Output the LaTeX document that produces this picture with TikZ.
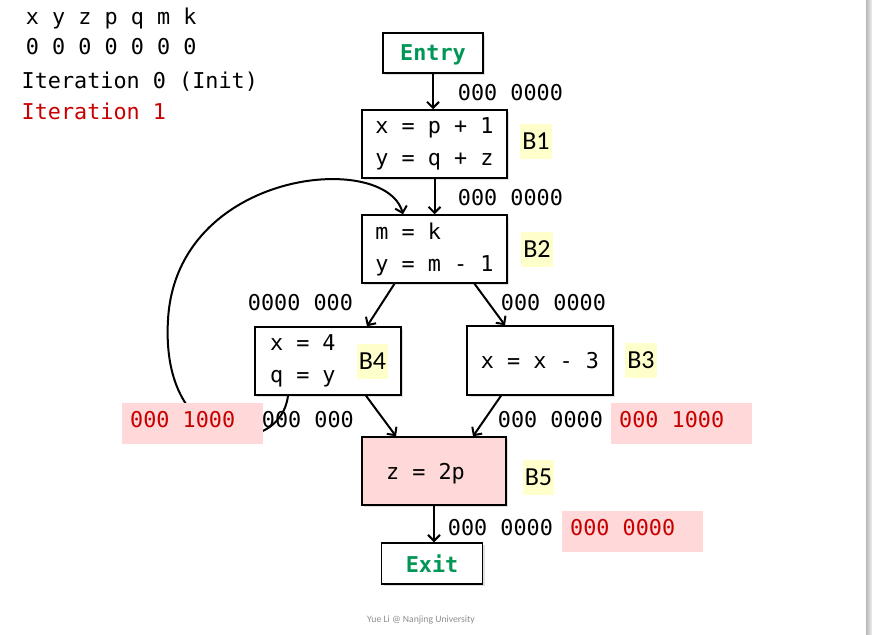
\documentclass[tikz,border=0pt]{standalone}
\usepackage{fontspec}
\setmonofont{DejaVu Sans Mono}
\newfontfamily\lblfont{Carlito}
\usepackage{xcolor}
\usetikzlibrary{arrows.meta,positioning,shadows}

\definecolor{entrygreen}{RGB}{0,150,85}
\definecolor{hotred}{RGB}{200,0,0}
\definecolor{pinkfill}{RGB}{255,217,217}
\definecolor{tagyellow}{RGB}{255,255,204}
\newcommand{\codefont}{\fontsize{21.8}{32}\selectfont\ttfamily}

\tikzset{
  blk/.style={draw=black, line width=1.5pt, fill=white, align=left, font=\codefont,
    execute at begin node={\spaceskip=0pt\relax},
    drop shadow={shadow xshift=2pt, shadow yshift=-2pt, opacity=0.2, fill=black!60}},
  term/.style={blk, minimum width=100pt, minimum height=40pt, text depth=0pt,
    text=entrygreen, font=\codefont\bfseries},
  tag/.style={fill=tagyellow, font=\lblfont\fontsize{26}{28}\selectfont,
    minimum height=35pt, inner xsep=2pt, inner ysep=0pt},
  bits/.style={font=\codefont, inner sep=0pt, anchor=base west},
  redbits/.style={fill=pinkfill, text=hotred, font=\codefont, anchor=west,
    execute at begin node={\spaceskip=0pt\relax},
    minimum height=41pt, text width=125pt, inner xsep=8pt, text depth=8pt, align=left},
  arr/.style={line width=2pt, -{Straight Barb[length=6pt,width=12pt]}},
}

\begin{document}
\begin{tikzpicture}[x=1pt,y=-1pt]
\useasboundingbox (0,0) rectangle (872,634);
\shade[left color=black!28, right color=black!6] (866,0) rectangle (872,634);

% variables and iterations
\node[bits] (vars) at (25.7,25) {x y z p q m k};
\node[bits] (init) at (25.7,55) {0 0 0 0 0 0 0};
\node[bits] (iter0) at (21.5,88.5) {Iteration 0 (Init)};
\node[bits, text=hotred] (iter1) at (21.5,119) {Iteration 1};

% blocks
\node[term] (Entry) at (433,53) {Entry};
\node[blk, minimum width=145pt, minimum height=68pt] (B1) at (434.5,144) {x = p + 1\\y = q + z};
\node[blk, minimum width=145pt, minimum height=68pt] (B2) at (434.5,249) {m = k\\y = m - 1};
\node[blk, minimum width=146pt, minimum height=68pt, text width=116pt, inner xsep=15pt] (B4) at (328,361) {x = 4\\q = y};
\node[blk, minimum width=146pt, minimum height=69pt] (B3) at (540,360.5) {x = x - 3};
\node[blk, fill=pinkfill, minimum width=144pt, minimum height=68pt, text width=96pt, inner xsep=24pt, text depth=0pt] (B5) at (434,471) {z = 2p};
\node[term, minimum width=101pt, minimum height=41pt] (Exit) at (432,563.5) {Exit};

\node[tag] (tB1) at (536,141.5) {B1};
\node[tag] (tB2) at (537,249) {B2};
\node[tag] (tB4) at (372.5,361.5) {B4};
\node[tag] (tB3) at (641,360.5) {B3};
\node[tag] (tB5) at (538.5,477) {B5};

% flow edges
\draw[arr] (Entry.south) -- (Entry.south |- B1.north);
\draw[arr] (B1.south) -- (B2.north);
\draw[arr] ([xshift=-40pt]B2.south) -- ([xshift=39pt]B4.north);
\draw[arr] ([xshift=40pt]B2.south) -- ([xshift=-35pt]B3.north);
\draw[arr] ([xshift=38pt]B4.south) -- ([xshift=-38pt]B5.north);
\draw[arr] ([xshift=-39pt]B3.south) -- ([xshift=39pt]B5.north);
\draw[arr] (B5.south) -- (B5.south |- Exit.north);
\draw[arr] ([xshift=-40pt]B4.south) .. controls (280,460) and (160,455) .. (168,320)
  .. controls (176,170) and (385,150) .. ([xshift=-31.5pt]B2.north);

% facts on the edges
\foreach \nm/\px/\py/\txt in {
    oEntry/457.7/100/000 0000,
    oB1/457.7/205/000 0000,
    iB4/247.7/310/0000 000,
    iB3/500.7/310/000 0000,
    oB4/261.7/427/000 000,
    oB3/497.7/427/000 0000,
    oB5/447.7/535/000 0000
} {
    \node[bits] (\nm) at (\px,\py) {\txt};
}
\node[redbits] (nB4) at (122,423.5) {000 1000};
\node[redbits] (nB3) at (611,423.5) {000 1000};
\node[redbits] (nB5) at (562,531.5) {000 0000};

\node[font=\lblfont\fontsize{9.7}{11}\selectfont, text=black!45] (credit) at (421,619.5) {Yue Li @ Nanjing University};
\end{tikzpicture}
\end{document}
